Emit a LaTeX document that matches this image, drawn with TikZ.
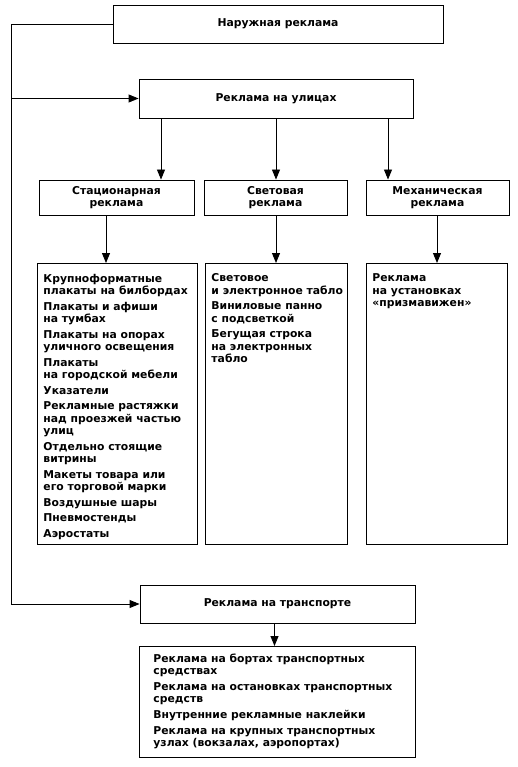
\documentclass[tikz,border=0pt]{standalone}
\usepackage{fontspec}
\setmainfont{DejaVu Sans}
\usetikzlibrary{positioning,arrows.meta}

\tikzset{
  box/.style={draw, line width=0.9pt, inner sep=0pt, align=center},
  listbox/.style={draw, line width=0.9pt, inner xsep=6pt, inner ysep=0pt, anchor=north west},
  arr/.style={-{Triangle[width=8pt,length=10pt]}, line width=0.9pt}
}
\newcommand{\listcol}[4][10.5pt]{\parbox[c][#3][t]{#2}{\raggedright\hfuzz=20pt\vspace*{#1}#4}}

\begin{document}
\begin{tikzpicture}[x=1pt,y=-1pt,font=\fontsize{10.8}{12.2}\selectfont\bfseries]
    \useasboundingbox (0,0) rectangle (518,767);
    \coordinate (trunk) at (11,0);

    \node[box, minimum width=330pt, minimum height=38pt] (outdoor) at (278,24) {Наружная реклама};
    \node[box, minimum width=274pt, minimum height=39pt] (street) at (276,98.5) {Реклама на улицах};

    \node[box, minimum width=155pt, minimum height=35pt] (stat) at (116.5,197.5) {Стационарная\\реклама};
    \node[box, minimum width=143pt, minimum height=35pt] (light) at (275.5,197.5) {Световая\\реклама};
    \node[box, minimum width=143pt, minimum height=35pt] (mech) at (437.5,197.5) {Механическая\\реклама};

    \node[listbox] (statlist) at (37,263) {\listcol{148pt}{281pt}{%
        Крупноформатные\\плакаты на билбордах\\[3.6pt]
        Плакаты и афиши\\на тумбах\\[3.6pt]
        Плакаты на опорах\\уличного освещения\\[3.6pt]
        Плакаты\\на городской мебели\\[3.6pt]
        Указатели\\[3.6pt]
        Рекламные растяжки\\над проезжей частью\\улиц\\[3.6pt]
        Отдельно стоящие\\витрины\\[3.6pt]
        Макеты товара или\\его торговой марки\\[3.6pt]
        Воздушные шары\\[3.6pt]
        Пневмостенды\\[3.6pt]
        Аэростаты}};
    \node[listbox] (lightlist) at (205,263) {\listcol{130pt}{281pt}{%
        Световое\\\mbox{и электронное табло}\\[3.6pt]
        Виниловые панно\\с подсветкой\\[3.6pt]
        Бегущая строка\\на электронных\\табло}};
    \node[listbox] (mechlist) at (366,263) {\listcol{129pt}{281pt}{%
        Реклама\\на установках\\«призмавижен»}};

    \node[box, minimum width=275pt, minimum height=38pt] (transport) at (277.5,604) {Реклама на транспорте};
    \node[listbox, inner xsep=0pt] (vehicles) at (139,646) {\listcol[7.5pt]{276pt}{111pt}{\leftskip=14pt
        Реклама на бортах транспортных\\средствах\\[3.6pt]
        Реклама на остановках транспортных\\средств\\[3.6pt]
        Внутренние рекламные наклейки\\[3.6pt]
        Реклама на крупных транспортных\\узлах (вокзалах, аэропортах)}};

    % main trunk on the left
    \draw[arr] (outdoor.west) -- (outdoor.west -| trunk) -- (transport.west -| trunk) -- (transport.west);
    \draw[arr] (street.west -| trunk) -- (street.west);

    \foreach \x/\n in {161/stat,276/light,388/mech}
        \draw[arr] (street.south -| \x,0) -- (\n.north -| \x,0);
    \foreach \x/\n in {106/stat,276/light,437/mech}
        \draw[arr] (\n.south -| \x,0) -- (\n list.north -| \x,0);

    \draw[arr] ([xshift=-3pt]transport.south) -- ([xshift=-3pt]transport.south |- vehicles.north);
\end{tikzpicture}
\end{document}
